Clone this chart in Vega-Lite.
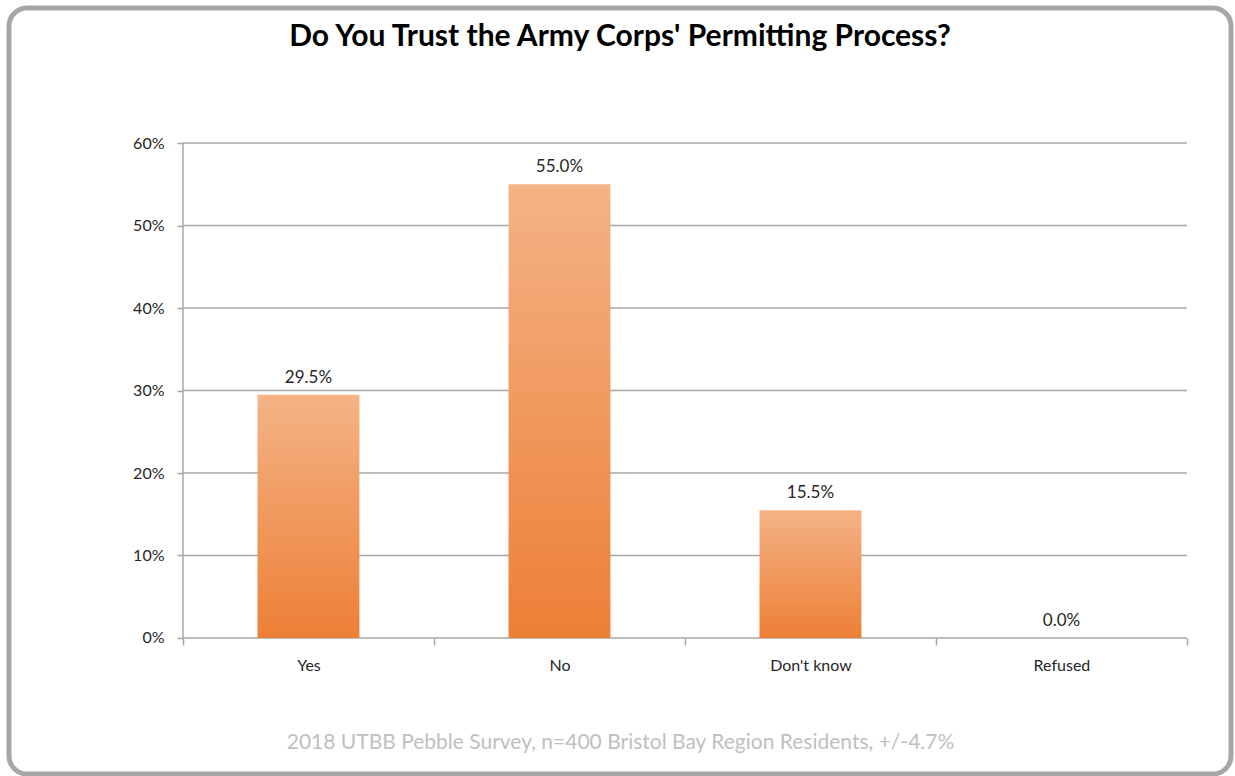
{
  "$schema": "https://vega.github.io/schema/vega-lite/v6.json",
  "width": 1222,
  "height": 766,
  "autosize": {"type": "none"},
  "padding": {"left": 9, "top": 8, "right": 4, "bottom": 2},
  "background": "white",
  "title": {
    "text": "Do You Trust the Army Corps' Permitting Process?",
    "frame": "group",
    "anchor": "middle",
    "baseline": "alphabetic",
    "offset": -68,
    "font": "Lato",
    "fontSize": 30,
    "fontWeight": "bold",
    "color": "#000000"
  },
  "config": {
    "view": {"stroke": "#a6a6a6", "strokeWidth": 5, "cornerRadius": 18},
    "axis": {"labelFont": "Lato", "labelFontSize": 16, "labelColor": "#262626", "titleFont": "Lato"}
  },
  "datasets": {
    "answers": [
      {"answer": "Yes", "share": 0.295},
      {"answer": "No", "share": 0.55},
      {"answer": "Don't know", "share": 0.155},
      {"answer": "Refused", "share": 0.0}
    ],
    "grid": [
      {"v": 0.0, "a": "Yes", "b": "Refused"},
      {"v": 0.1, "a": "Yes", "b": "Refused"},
      {"v": 0.2, "a": "Yes", "b": "Refused"},
      {"v": 0.3, "a": "Yes", "b": "Refused"},
      {"v": 0.4, "a": "Yes", "b": "Refused"},
      {"v": 0.5, "a": "Yes", "b": "Refused"},
      {"v": 0.6, "a": "Yes", "b": "Refused"}
    ],
    "yline": [
      {"a": "Yes", "lo": 0.0, "hi": 0.6}
    ]
  },
  "layer": [
    {
      "data": {"name": "grid"},
      "mark": {"type": "rule", "color": "#a6a6a6", "strokeWidth": 1.5},
      "encoding": {
        "x": {"field": "a", "type": "nominal", "bandPosition": 0,
              "scale": {"domain": ["Yes", "No", "Don't know", "Refused"], "paddingInner": 0, "paddingOuter": 0.4343, "align": 0.798},
              "axis": {
                "orient": "bottom", "offset": -136, "domain": false, "grid": false,
                "ticks": true, "tickBand": "extent", "tickSize": 7, "tickColor": "#a6a6a6", "tickWidth": 1.5,
                "labelAngle": 0, "labelPadding": 12,
                "title": "2018 UTBB Pebble Survey, n=400 Bristol Bay Region Residents, +/-4.7%",
                "titleColor": "#bfbfbf", "titleFontSize": 21, "titleFontWeight": "normal", "titlePadding": 58
              }},
        "x2": {"field": "b", "bandPosition": 1},
        "y": {"field": "v", "type": "quantitative",
              "scale": {"domain": [-0.16485, 0.76364], "nice": false, "zero": false},
              "axis": {
                "orient": "left", "offset": -174, "domain": false, "grid": false,
                "values": [0, 0.1, 0.2, 0.3, 0.4, 0.5, 0.6], "format": ".0%",
                "ticks": true, "tickSize": 6, "tickColor": "#a6a6a6", "tickWidth": 1.5,
                "labelPadding": 13, "title": null
              }}
      }
    },
    {
      "data": {"name": "yline"},
      "mark": {"type": "rule", "color": "#a6a6a6", "strokeWidth": 1.5},
      "encoding": {
        "x": {"field": "a", "type": "nominal", "bandPosition": 0},
        "y": {"field": "lo", "type": "quantitative"},
        "y2": {"field": "hi"}
      }
    },
    {
      "data": {"name": "answers"},
      "mark": {
        "type": "bar",
        "width": {"band": 0.406},
        "color": {
          "gradient": "linear", "x1": 0, "y1": 0, "x2": 0, "y2": 1,
          "stops": [
            {"offset": 0, "color": "#f4b386"},
            {"offset": 1, "color": "#ed7f36"}
          ]
        }
      },
      "encoding": {
        "x": {"field": "answer", "type": "nominal", "sort": null},
        "y": {"field": "share", "type": "quantitative"}
      }
    },
    {
      "data": {"name": "answers"},
      "mark": {"type": "text", "dy": -12, "baseline": "alphabetic", "font": "Lato", "fontSize": 17, "color": "#262626"},
      "encoding": {
        "x": {"field": "answer", "type": "nominal", "sort": null},
        "y": {"field": "share", "type": "quantitative"},
        "text": {"field": "share", "type": "quantitative", "format": ".1%"}
      }
    }
  ]
}
